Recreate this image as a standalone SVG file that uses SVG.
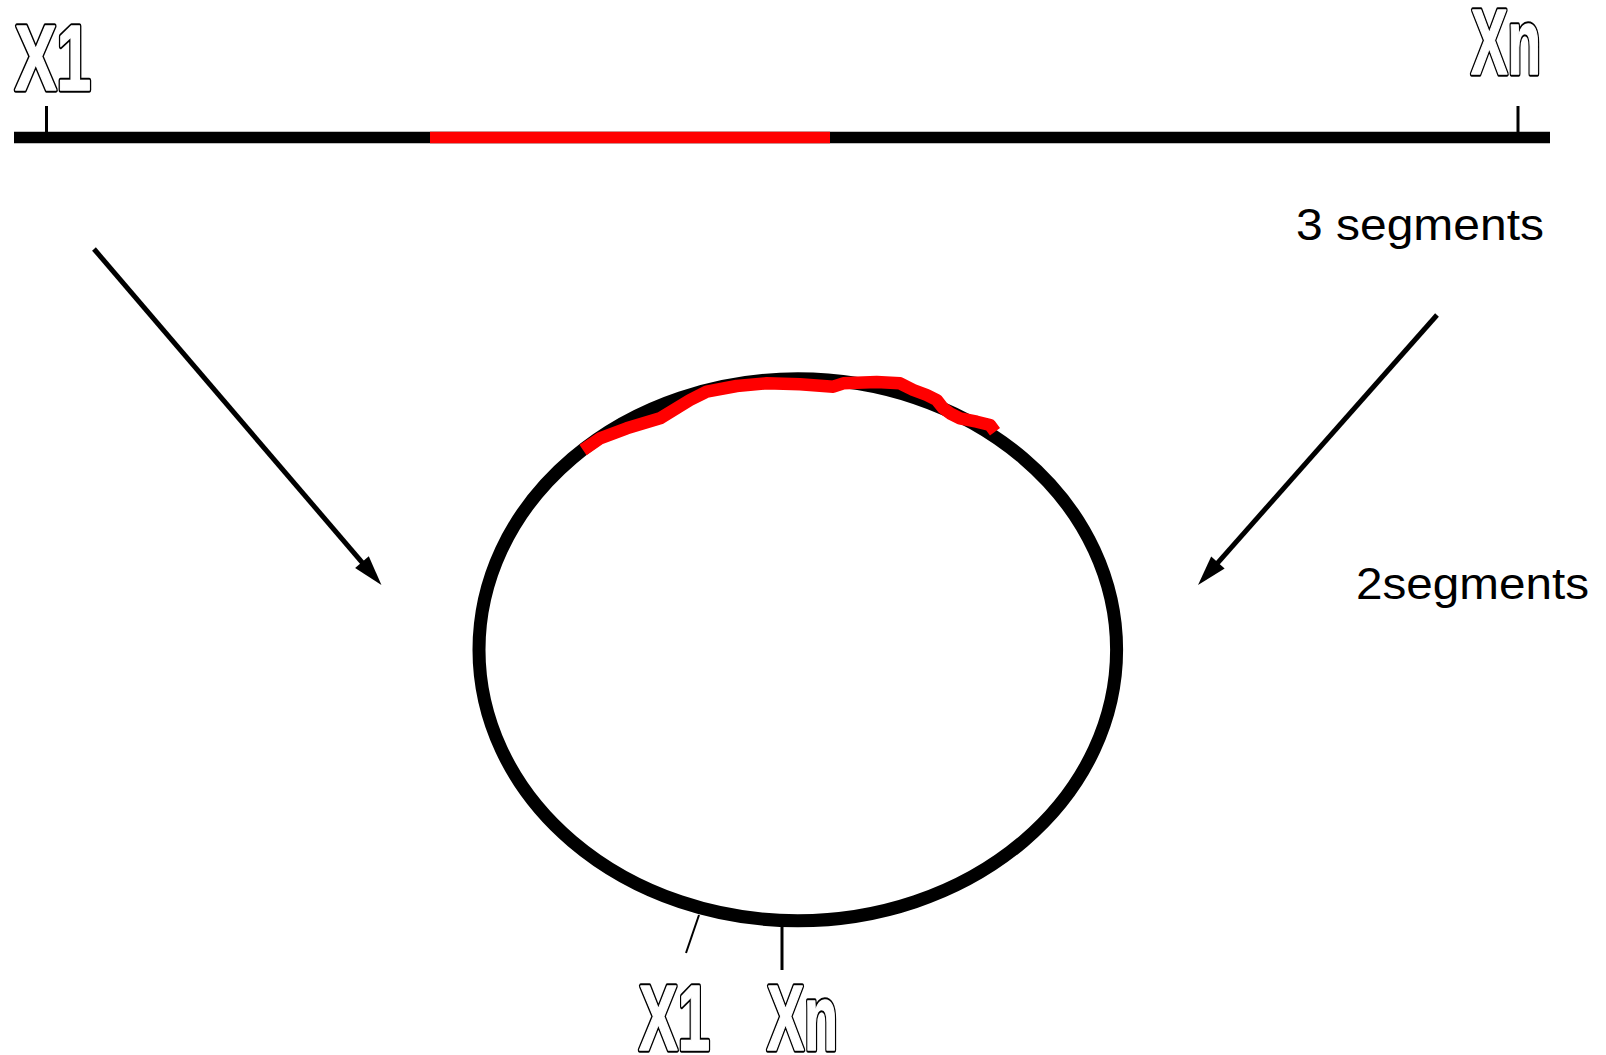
<svg xmlns="http://www.w3.org/2000/svg" width="1606" height="1055" viewBox="0 0 1606 1055">
<style>
.lbl{font-family:"Liberation Sans",Arial,sans-serif;font-weight:bold;font-size:92px;stroke-linejoin:round}
.lbl .o{fill:#000;stroke:#000;stroke-width:5.5}
.lbl .i{fill:#fff;stroke:#fff;stroke-width:1.5}
.txt{font-family:"Liberation Sans",Arial,sans-serif;font-size:44px;fill:#000}
.arrow{stroke:#000;stroke-width:5;fill:none}
</style>
<defs>
<marker id="ah" markerUnits="userSpaceOnUse" viewBox="0 0 30 18" markerWidth="30" markerHeight="18" refX="13" refY="9" orient="auto" overflow="visible">
<path d="M0,0 L30,9 L0,18 Z" fill="#000"/>
</marker>
</defs>
<rect width="1606" height="1055" fill="#fff"/>
<g id="linear">
<line x1="14" y1="137.5" x2="1550" y2="137.5" stroke="#000" stroke-width="11.5"/>
<line x1="430" y1="137.5" x2="830" y2="137.5" stroke="#f00" stroke-width="11.5"/>
<line x1="46.5" y1="106" x2="46.5" y2="132" stroke="#000" stroke-width="3"/>
<line x1="1518" y1="106" x2="1518" y2="132" stroke="#000" stroke-width="3"/>
<g class="lbl">
<text class="o" x="15" y="90" textLength="76" lengthAdjust="spacingAndGlyphs">X1</text>
<text class="i" x="15" y="90" textLength="76" lengthAdjust="spacingAndGlyphs">X1</text>
</g>
<g class="lbl">
<text class="o" x="1471" y="74" textLength="70" lengthAdjust="spacingAndGlyphs">Xn</text>
<text class="i" x="1471" y="74" textLength="70" lengthAdjust="spacingAndGlyphs">Xn</text>
</g>
</g>
<g id="circle">
<ellipse cx="797.8" cy="649.8" rx="318.8" ry="271" fill="none" stroke="#000" stroke-width="13"/>
<path d="M583,450 L600,438.3 L626.7,428.3 L660,418.3 L690,400 L706.7,391.7 L736.7,386 L766.7,383.3 L800,384.3 L833.3,386.7 L843.3,383.3 L876.7,382 L900,383.3 L913.3,390 L926.7,395 L936.7,400 L943.3,408.3 L950,413.3 L960,418.3 L976.7,421.7 L990,425 L995,431.7" fill="none" stroke="#f00" stroke-width="12.5" stroke-linejoin="round"/>
<line x1="699" y1="915" x2="686" y2="953" stroke="#000" stroke-width="2"/>
<line x1="782" y1="927" x2="782" y2="970" stroke="#000" stroke-width="3"/>
<g class="lbl">
<text class="o" x="639" y="1050" textLength="71" lengthAdjust="spacingAndGlyphs">X1</text>
<text class="i" x="639" y="1050" textLength="71" lengthAdjust="spacingAndGlyphs">X1</text>
</g>
<g class="lbl">
<text class="o" x="767" y="1050" textLength="71" lengthAdjust="spacingAndGlyphs">Xn</text>
<text class="i" x="767" y="1050" textLength="71" lengthAdjust="spacingAndGlyphs">Xn</text>
</g>
</g>
<g id="connectors">
<line class="arrow" x1="94" y1="249" x2="370.4" y2="572.1" marker-end="url(#ah)"/>
<line class="arrow" x1="1437" y1="315" x2="1209.3" y2="572.3" marker-end="url(#ah)"/>
</g>
<g id="labels">
<text class="txt" x="1296" y="240" textLength="248" lengthAdjust="spacingAndGlyphs">3 segments</text>
<text class="txt" x="1356" y="598.5" textLength="233" lengthAdjust="spacingAndGlyphs">2segments</text>
</g>
</svg>
